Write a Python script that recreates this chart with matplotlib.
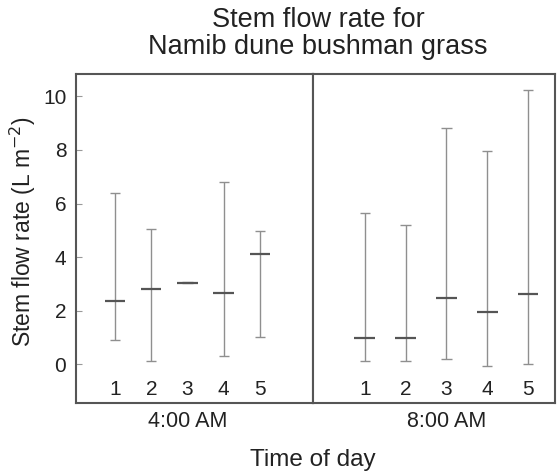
import numpy as np
import matplotlib.pyplot as plt

plt.rcParams['font.family'] = ['Liberation Sans', 'DejaVu Sans']

groups = ['4:00 AM', '8:00 AM']
plants = [1, 2, 3, 4, 5]

# median, lower whisker, upper whisker (L m-2)
mid_4am = [2.35, 2.80, 3.05, 2.65, 4.10]
low_4am = [0.91, 0.11, 3.02, 0.33, 1.02]
high_4am = [6.40, 5.06, 3.08, 6.80, 4.96]

mid_8am = [0.99, 0.99, 2.49, 1.95, 2.61]
low_8am = [0.11, 0.11, 0.20, -0.05, 0.02]
high_8am = [5.66, 5.19, 8.83, 7.97, 10.25]

W, H = 560, 475
fig = plt.figure(figsize=(W / 100, H / 100), dpi=100)

left, right, top, bottom, divider = 76, 555, 74, 403, 313
ax1 = fig.add_axes([left / W, 1 - bottom / H, (divider - left) / W, (bottom - top) / H])
ax2 = fig.add_axes([divider / W, 1 - bottom / H, (right - divider) / W, (bottom - top) / H], sharey=ax1)

bar_col = '#8f8f8f'
mid_col = '#555555'
spine_col = '#555555'
txt_col = '#222222'

panels = [(ax1, mid_4am, low_4am, high_4am, (-0.08, 6.47)),
          (ax2, mid_8am, low_8am, high_8am, (-0.27, 5.66))]

for (ax, mid, low, high, xl), name in zip(panels, groups):
    x = np.array(plants)
    span = xl[1] - xl[0]
    cap = 0.14 * span / 6.5
    half = 0.28 * span / 6.5
    ax.vlines(x, low, high, color=bar_col, lw=1.0)
    ax.hlines(low, x - cap, x + cap, color=bar_col, lw=1.0)
    ax.hlines(high, x - cap, x + cap, color=bar_col, lw=1.0)
    ax.hlines(mid, x - half, x + half, color=mid_col, lw=1.6)
    for xi in x:
        ax.text(xi, -0.95, str(xi), ha='center', va='center', fontsize=15, color=txt_col)
    ax.set_xlim(*xl)
    ax.set_xticks([])
    ax.text(3, -2.14, name, ha='center', va='center', fontsize=15.5, color=txt_col, clip_on=False)
    for s in ax.spines.values():
        s.set_color(spine_col)
        s.set_linewidth(1.5)

ax1.set_ylim(-1.44, 10.83)
ax1.set_yticks([0, 2, 4, 6, 8, 10])
ax1.tick_params(axis='y', direction='in', length=4, color='#999999', labelsize=15,
                labelcolor=txt_col, pad=7)
ax2.tick_params(axis='y', left=False, labelleft=False)

fig.text(23 / W, 1 - 231.5 / H, 'Stem flow rate (L m$^{-2}$)', rotation=90, ha='center', va='center',
         fontsize=16.5, color=txt_col)
fig.text(divider / W, 1 - 460 / H, 'Time of day', ha='center', va='center', fontsize=17.5, color=txt_col)
fig.text(318 / W, 1 - 26.7 / H, 'Stem flow rate for', ha='center', va='baseline', fontsize=19.5, color=txt_col)
fig.text(318 / W, 1 - 54 / H, 'Namib dune bushman grass', ha='center', va='baseline', fontsize=19.5, color=txt_col)

fig.savefig('out.png', dpi=100)
